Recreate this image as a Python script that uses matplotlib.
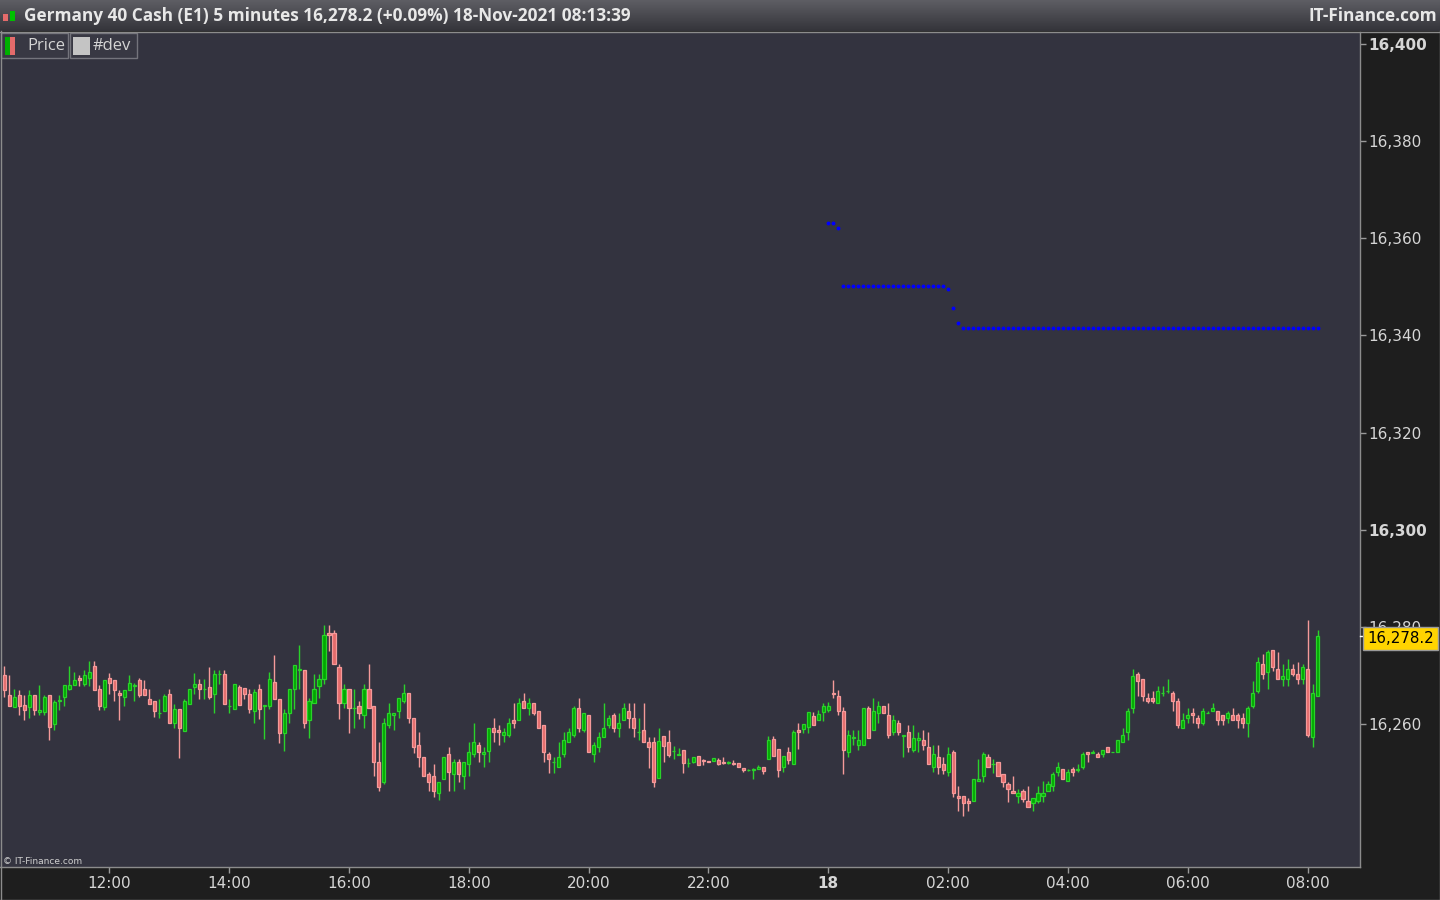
import numpy as np
import pandas as pd
import matplotlib.pyplot as plt
from matplotlib.patches import Rectangle
from matplotlib.lines import Line2D
from matplotlib.colors import LinearSegmentedColormap
from matplotlib.transforms import blended_transform_factory

# Germany 40 Cash, 5 minute candles, 17-Nov 10:15 .. 18-Nov 08:10
start_time = "2021-11-17 10:15"

opens = [
    16270.1, 16265.9, 16263.4, 16265.9, 16263.9, 16263.4, 16265.9, 16262.4, 16262.4, 16265.9,
    16259.9, 16264.8, 16265.5, 16267.3, 16268.0, 16269.4, 16268.3, 16269.4, 16271.9, 16267.3,
    16263.4, 16269.4, 16269.0, 16266.3, 16265.5, 16266.9, 16267.9, 16269.0, 16267.3, 16265.1,
    16264.7, 16262.2, 16262.6, 16266.2, 16260.1, 16263.0, 16258.5, 16264.1, 16267.6, 16268.2,
    16267.1, 16267.6, 16266.1, 16270.2, 16270.2, 16263.6, 16263.0, 16267.6, 16267.5, 16266.2,
    16262.6, 16267.1, 16263.7, 16263.6, 16268.6, 16265.1, 16258.1, 16262.2, 16267.1, 16271.2,
    16271.2, 16260.8, 16264.3, 16267.8, 16269.2, 16278.7, 16278.7, 16271.7, 16264.3, 16267.1,
    16263.2, 16263.6, 16261.8, 16267.1, 16263.6, 16252.1, 16248.1, 16259.7, 16261.8, 16262.6,
    16264.7, 16266.3, 16261.2, 16255.6, 16253.1, 16249.6, 16249.2, 16245.7, 16248.6, 16253.8,
    16249.6, 16252.1, 16249.2, 16251.7, 16253.8, 16255.6, 16253.8, 16254.5, 16259.1, 16258.7,
    16257.7, 16257.7, 16260.8, 16260.8, 16264.7, 16263.2, 16264.3, 16262.6, 16259.7, 16253.8,
    16252.1, 16251.1, 16253.8, 16256.2, 16257.7, 16263.2, 16258.7, 16261.8, 16253.8, 16255.2,
    16257.3, 16259.7, 16261.8, 16259.1, 16260.8, 16262.6, 16261.2, 16258.3, 16258.7, 16256.2,
    16256.2, 16248.8, 16257.5, 16256.2, 16254.4, 16253.6, 16254.6, 16251.9, 16252.1, 16253.4,
    16252.5, 16252.3, 16252.3, 16252.5, 16252.1, 16252.0, 16251.9, 16251.9, 16250.9, 16250.5,
    16250.6, 16250.7, 16251.1, 16252.7, 16257.0, 16254.8, 16251.1, 16254.2, 16251.7, 16258.7,
    16258.9, 16259.3, 16261.6, 16260.8, 16262.4, 16262.8, 16266.3, 16265.7, 16262.6, 16254.2,
    16257.2, 16255.6, 16255.6, 16263.2, 16258.7, 16262.2, 16263.6, 16261.8, 16258.3, 16260.1,
    16257.6, 16258.3, 16254.6, 16256.6, 16256.6, 16255.2, 16251.1, 16253.1, 16251.7, 16250.1,
    16254.2, 16245.1, 16245.1, 16244.1, 16244.1, 16248.2, 16249.2, 16253.1, 16251.7, 16252.1,
    16249.6, 16247.6, 16246.1, 16245.1, 16246.1, 16244.1, 16243.7, 16244.1, 16245.1, 16246.1,
    16247.2, 16250.1, 16250.7, 16248.2, 16250.7, 16250.6, 16251.1, 16254.2, 16254.1, 16253.8,
    16253.8, 16255.2, 16254.2, 16254.2, 16256.2, 16258.3, 16263.2, 16270.2, 16269.2, 16265.3,
    16265.3, 16264.3, 16266.3, 16266.7, 16266.3, 16264.7, 16259.1, 16261.2, 16262.2, 16261.2,
    16260.1, 16262.2, 16262.6, 16262.6, 16261.8, 16261.2, 16261.8, 16261.8, 16261.2, 16260.1,
    16263.6, 16266.7, 16272.3, 16270.6, 16275.2, 16271.3, 16269.2, 16269.2, 16271.3, 16270.2,
    16269.2, 16271.3, 16257.3, 16265.7,
]
highs = [
    16271.9, 16270.1, 16267.3, 16267.0, 16266.0, 16267.0, 16265.9, 16268.0, 16266.0, 16265.9,
    16265.0, 16266.0, 16268.0, 16271.9, 16270.8, 16270.1, 16271.1, 16273.0, 16273.0, 16268.0,
    16269.0, 16270.4, 16269.0, 16266.9, 16267.0, 16270.1, 16268.5, 16269.4, 16269.0, 16267.2,
    16264.7, 16265.1, 16266.2, 16267.2, 16264.1, 16263.0, 16265.1, 16267.2, 16270.4, 16269.2,
    16269.2, 16271.7, 16271.1, 16271.1, 16271.1, 16265.1, 16268.2, 16268.0, 16267.5, 16267.1,
    16267.1, 16268.2, 16264.0, 16270.8, 16274.2, 16265.1, 16263.0, 16267.1, 16272.1, 16276.3,
    16271.2, 16265.3, 16270.3, 16270.3, 16280.4, 16280.4, 16279.3, 16272.3, 16268.2, 16267.1,
    16267.1, 16264.7, 16268.2, 16272.3, 16263.6, 16256.2, 16261.2, 16264.3, 16262.2, 16265.3,
    16268.2, 16266.3, 16261.2, 16258.3, 16253.1, 16250.2, 16251.7, 16248.1, 16253.1, 16255.3,
    16252.7, 16252.7, 16252.1, 16256.3, 16260.1, 16256.3, 16255.2, 16259.1, 16261.2, 16259.7,
    16259.1, 16261.2, 16264.3, 16265.4, 16266.4, 16265.4, 16264.3, 16262.6, 16259.7, 16254.2,
    16253.1, 16256.2, 16258.3, 16259.1, 16263.6, 16265.4, 16262.2, 16261.8, 16256.2, 16258.3,
    16264.3, 16261.8, 16262.2, 16262.2, 16264.3, 16264.3, 16264.3, 16261.2, 16264.3, 16257.3,
    16257.3, 16259.1, 16257.5, 16258.7, 16255.4, 16255.0, 16254.6, 16252.9, 16253.1, 16253.4,
    16252.7, 16252.3, 16252.9, 16252.9, 16253.1, 16252.4, 16252.6, 16251.9, 16250.9, 16250.7,
    16250.9, 16251.6, 16251.1, 16257.5, 16257.5, 16254.8, 16253.5, 16255.2, 16258.7, 16260.3,
    16259.9, 16262.4, 16262.4, 16262.8, 16264.3, 16264.5, 16269.1, 16266.9, 16263.4, 16258.7,
    16258.7, 16258.7, 16263.2, 16263.6, 16265.3, 16264.7, 16263.6, 16264.3, 16261.8, 16260.8,
    16257.7, 16259.7, 16259.7, 16258.3, 16258.7, 16258.3, 16255.6, 16255.6, 16253.1, 16255.2,
    16254.6, 16247.2, 16245.1, 16244.7, 16248.6, 16252.7, 16254.2, 16253.8, 16252.7, 16252.1,
    16249.6, 16248.1, 16249.2, 16246.6, 16246.6, 16247.2, 16244.7, 16247.2, 16248.2, 16248.2,
    16250.1, 16252.1, 16250.7, 16250.7, 16251.1, 16251.7, 16254.2, 16254.2, 16254.7, 16254.2,
    16254.6, 16255.2, 16254.3, 16256.6, 16259.1, 16263.2, 16271.3, 16270.6, 16269.2, 16266.3,
    16266.7, 16267.8, 16267.8, 16269.2, 16266.7, 16265.3, 16262.2, 16263.2, 16263.2, 16261.8,
    16263.2, 16262.7, 16264.3, 16262.6, 16261.8, 16262.6, 16263.2, 16262.2, 16262.2, 16263.6,
    16268.9, 16273.7, 16274.5, 16275.2, 16275.2, 16274.8, 16272.3, 16273.3, 16272.3, 16272.7,
    16272.3, 16281.4, 16268.2, 16279.3,
]
lows = [
    16265.5, 16263.8, 16263.4, 16261.9, 16260.8, 16261.3, 16261.9, 16261.9, 16261.9, 16256.7,
    16258.8, 16262.8, 16263.8, 16266.9, 16268.0, 16267.9, 16267.9, 16267.9, 16266.9, 16262.8,
    16262.8, 16266.2, 16264.8, 16260.8, 16263.8, 16266.9, 16264.8, 16265.5, 16265.9, 16264.1,
    16261.5, 16261.2, 16262.6, 16260.1, 16259.1, 16252.9, 16258.5, 16264.1, 16266.2, 16265.1,
    16265.1, 16265.1, 16262.2, 16268.2, 16264.1, 16262.2, 16263.0, 16264.0, 16265.1, 16262.2,
    16260.1, 16261.1, 16257.0, 16263.0, 16265.1, 16256.0, 16254.5, 16260.1, 16263.0, 16267.1,
    16259.1, 16257.2, 16264.3, 16265.3, 16268.2, 16275.0, 16272.3, 16261.1, 16263.2, 16258.2,
    16259.1, 16261.1, 16259.1, 16263.2, 16249.2, 16246.1, 16247.6, 16259.1, 16258.8, 16261.2,
    16264.3, 16260.1, 16254.1, 16251.1, 16249.2, 16246.1, 16245.0, 16244.4, 16248.6, 16246.1,
    16246.1, 16248.1, 16246.6, 16249.2, 16253.1, 16252.1, 16251.1, 16252.1, 16256.2, 16255.6,
    16256.2, 16257.3, 16259.1, 16260.8, 16263.2, 16261.8, 16261.8, 16259.1, 16252.1, 16250.0,
    16250.0, 16251.1, 16253.1, 16256.2, 16257.3, 16258.3, 16258.3, 16254.2, 16252.1, 16254.2,
    16257.3, 16259.1, 16258.3, 16257.3, 16260.8, 16259.1, 16257.3, 16256.6, 16256.2, 16251.0,
    16247.1, 16248.8, 16252.1, 16253.1, 16252.7, 16253.6, 16250.0, 16251.1, 16251.9, 16251.5,
    16251.5, 16252.1, 16252.3, 16251.5, 16251.7, 16251.8, 16251.5, 16251.1, 16250.2, 16250.4,
    16248.6, 16250.7, 16249.8, 16252.7, 16253.5, 16249.0, 16250.1, 16251.7, 16251.7, 16254.9,
    16258.1, 16258.1, 16259.7, 16260.8, 16260.6, 16262.4, 16265.3, 16261.8, 16249.6, 16253.1,
    16255.6, 16254.6, 16255.6, 16257.2, 16258.7, 16260.1, 16262.2, 16257.2, 16257.7, 16257.7,
    16253.1, 16254.2, 16254.2, 16254.2, 16254.6, 16251.7, 16250.1, 16249.6, 16249.6, 16249.2,
    16245.0, 16242.0, 16241.1, 16242.0, 16244.1, 16248.2, 16248.1, 16251.1, 16249.9, 16249.2,
    16247.1, 16244.0, 16245.7, 16243.7, 16244.0, 16243.0, 16242.0, 16243.7, 16244.0, 16246.1,
    16246.1, 16249.2, 16248.6, 16248.2, 16249.2, 16250.1, 16250.7, 16252.1, 16254.0, 16253.1,
    16253.1, 16254.2, 16254.2, 16254.2, 16256.2, 16256.6, 16262.2, 16265.7, 16264.7, 16264.3,
    16264.3, 16264.3, 16265.7, 16266.3, 16262.6, 16259.1, 16259.1, 16260.1, 16260.1, 16259.1,
    16259.7, 16262.2, 16262.6, 16259.7, 16259.7, 16260.1, 16260.8, 16259.1, 16259.1, 16257.3,
    16263.2, 16266.3, 16269.2, 16267.1, 16271.0, 16269.2, 16267.8, 16267.8, 16269.8, 16268.2,
    16268.2, 16257.3, 16255.2, 16265.7,
]
closes = [
    16266.9, 16263.8, 16265.5, 16263.8, 16262.8, 16265.9, 16262.8, 16262.8, 16265.5, 16259.3,
    16264.5, 16264.9, 16268.0, 16268.0, 16269.0, 16269.0, 16270.1, 16270.8, 16266.9, 16263.8,
    16269.0, 16268.4, 16266.9, 16265.9, 16267.0, 16268.4, 16268.0, 16265.9, 16265.9, 16264.1,
    16262.6, 16262.3, 16265.8, 16260.1, 16263.0, 16259.1, 16264.7, 16267.2, 16268.2, 16267.1,
    16267.2, 16265.6, 16270.2, 16270.3, 16264.1, 16263.7, 16268.2, 16264.0, 16266.2, 16263.0,
    16266.5, 16263.0, 16264.0, 16269.2, 16265.1, 16258.1, 16262.2, 16267.1, 16272.1, 16271.3,
    16260.1, 16264.7, 16267.1, 16269.2, 16278.3, 16278.3, 16272.3, 16264.3, 16267.1, 16263.2,
    16263.3, 16262.2, 16267.1, 16263.2, 16252.1, 16247.1, 16260.1, 16262.2, 16262.2, 16265.3,
    16266.3, 16261.2, 16255.2, 16253.1, 16249.2, 16248.1, 16246.1, 16248.1, 16253.1, 16250.1,
    16252.1, 16249.6, 16252.1, 16254.2, 16256.2, 16254.2, 16254.2, 16259.1, 16258.3, 16258.3,
    16258.3, 16260.1, 16260.1, 16264.3, 16263.2, 16264.3, 16262.2, 16259.1, 16254.2, 16252.7,
    16252.2, 16253.1, 16256.6, 16258.3, 16263.2, 16259.1, 16262.2, 16254.2, 16255.6, 16257.3,
    16259.1, 16261.2, 16259.1, 16260.1, 16263.2, 16261.2, 16259.1, 16258.4, 16256.2, 16255.2,
    16248.0, 16256.4, 16255.4, 16253.6, 16254.5, 16253.8, 16251.9, 16252.0, 16253.1, 16251.5,
    16252.3, 16252.1, 16252.9, 16251.7, 16251.9, 16252.1, 16251.7, 16251.1, 16250.5, 16250.6,
    16250.7, 16251.1, 16250.3, 16256.8, 16253.5, 16250.6, 16253.5, 16252.5, 16258.3, 16258.3,
    16259.9, 16262.4, 16259.7, 16262.0, 16263.6, 16263.6, 16266.1, 16262.6, 16254.6, 16257.7,
    16257.3, 16256.6, 16263.2, 16257.2, 16262.6, 16263.6, 16262.2, 16257.7, 16260.8, 16258.3,
    16257.7, 16255.2, 16257.2, 16257.2, 16255.6, 16251.7, 16253.8, 16251.1, 16250.6, 16253.8,
    16245.7, 16244.7, 16243.7, 16243.7, 16248.6, 16248.6, 16253.8, 16251.1, 16251.8, 16249.2,
    16248.1, 16246.6, 16245.7, 16245.7, 16244.6, 16243.0, 16244.7, 16245.7, 16245.7, 16247.6,
    16249.6, 16251.1, 16248.6, 16250.1, 16250.1, 16250.7, 16253.8, 16253.8, 16254.2, 16253.1,
    16254.6, 16254.2, 16254.3, 16256.6, 16257.7, 16262.6, 16269.8, 16268.8, 16265.7, 16264.7,
    16264.7, 16266.7, 16266.4, 16266.8, 16264.7, 16259.7, 16260.8, 16261.8, 16261.8, 16260.1,
    16262.6, 16262.3, 16263.2, 16260.8, 16260.8, 16262.2, 16260.8, 16260.8, 16260.1, 16263.2,
    16266.3, 16272.7, 16270.2, 16274.8, 16271.7, 16269.2, 16269.8, 16271.3, 16270.2, 16269.2,
    16271.7, 16257.7, 16266.3, 16278.2,
]

# "#dev" indicator (blue dots), starts at candle 165 (18-Nov 00:00)
dev_start = 165
dev_values = [
    16363.2, 16363.2, 16362.2,
    16350.2, 16350.2, 16350.2, 16350.2, 16350.2, 16350.2, 16350.2, 16350.2, 16350.2, 16350.2, 16350.2,
    16350.2, 16350.2, 16350.2, 16350.2, 16350.2, 16350.2, 16350.2, 16350.2, 16350.2, 16350.2,
    16349.6, 16345.7, 16342.6,
    16341.6, 16341.6, 16341.6, 16341.6, 16341.6, 16341.6, 16341.6, 16341.6, 16341.6, 16341.6, 16341.6, 16341.6,
    16341.6, 16341.6, 16341.6, 16341.6, 16341.6, 16341.6, 16341.6, 16341.6, 16341.6, 16341.6, 16341.6, 16341.6,
    16341.6, 16341.6, 16341.6, 16341.6, 16341.6, 16341.6, 16341.6, 16341.6, 16341.6, 16341.6, 16341.6, 16341.6,
    16341.6, 16341.6, 16341.6, 16341.6, 16341.6, 16341.6, 16341.6, 16341.6, 16341.6, 16341.6, 16341.6, 16341.6,
    16341.6, 16341.6, 16341.6, 16341.6, 16341.6, 16341.6, 16341.6, 16341.6, 16341.6, 16341.6, 16341.6, 16341.6,
    16341.6, 16341.6, 16341.6, 16341.6, 16341.6, 16341.6, 16341.6, 16341.6, 16341.6, 16341.6, 16341.6, 16341.6,
]

last_price = 16278.2
y_ticks = [16260, 16280, 16300, 16320, 16340, 16360, 16380, 16400]
bold_y = [16300, 16400]
title_text = "Germany 40 Cash (E1) 5 minutes 16,278.2 (+0.09%) 18-Nov-2021 08:13:39"

W, H = 1440, 900
fig = plt.figure(figsize=(W / 100, H / 100), dpi=100, facecolor='#1e1e1e')


def fx(px):
    return px / W


def fy(py):
    return 1 - py / H


def px_rect(x0, y0, x1, y1, **kw):
    fig.add_artist(Rectangle((fx(x0), fy(y1)), (x1 - x0) / W, (y1 - y0) / H,
                             transform=fig.transFigure, **kw))


# main price panel
ax = fig.add_axes([0, fy(867), fx(1360), (867 - 32) / H])
ax.set_facecolor('#33333f')

o = np.array(opens)
h = np.array(highs)
l = np.array(lows)
c = np.array(closes)
idx = np.arange(len(c))
up = c >= o

green_fill, green_edge = '#00a800', '#2ad22a'
red_fill, red_edge = '#e36b6b', '#f59a9a'
edge = np.where(up, green_edge, red_edge)
fill = np.where(up, green_fill, red_fill)

ax.vlines(idx, l, h, colors=edge, lw=1.0, zorder=2)
body_low = np.minimum(o, c)
body_h = np.maximum(np.abs(c - o), 0.12)
ax.bar(idx, body_h, bottom=body_low, width=0.62, color=fill, edgecolor=edge,
       linewidth=0.9, zorder=3)

dev_x = np.arange(dev_start, dev_start + len(dev_values))
ax.plot(dev_x, dev_values, 'o', ms=2.8, color='#0000ff', mec='none', zorder=4)

ax.set_xlim(-0.9, 271.5)
ax.set_ylim(16230.55, 16402.47)

# time axis
times = pd.date_range(start_time, periods=len(c), freq='5min')
tick_pos = [i for i, t in enumerate(times) if t.minute == 0 and t.hour % 2 == 0]
tick_lab = ['18' if times[i].hour == 0 else times[i].strftime('%H:%M') for i in tick_pos]
ax.set_xticks(tick_pos)
ax.set_xticklabels(tick_lab)
for lab in ax.get_xticklabels():
    if lab.get_text() == '18':
        lab.set_fontweight('bold')
        lab.set_color('#f2f2f2')

ax.yaxis.tick_right()
ax.set_yticks(y_ticks)
ax.set_yticklabels([f'{v:,}' for v in y_ticks])
for lab, v in zip(ax.get_yticklabels(), y_ticks):
    if v in bold_y:
        lab.set_fontweight('bold')
        lab.set_color('#f2f2f2')

ax.tick_params(axis='both', colors='#9a9a9a', length=4, width=1, labelsize=11,
               labelcolor='#d6d6d6')
ax.tick_params(axis='y', pad=2)
ax.tick_params(axis='x', pad=2.5)
for s in ['top', 'left']:
    ax.spines[s].set_visible(False)
for s in ['right', 'bottom']:
    ax.spines[s].set_color('#8c8c8c')
    ax.spines[s].set_linewidth(1)

# last price marker (label box sits a little below the price, as in the platform)
tr = blended_transform_factory(ax.transAxes, ax.transData)
ax.plot([1.0, 1.0 + 4 / 1360], [last_price, last_price], color='white', lw=1,
        transform=tr, clip_on=False, zorder=5)
ax.annotate(f'{last_price:,.1f}', xy=(1.0, last_price), xycoords=tr,
            xytext=(5.3, -2.2), textcoords='offset points', ha='left', va='center',
            fontsize=10.8, color='black', annotation_clip=False, zorder=6,
            bbox=dict(boxstyle='square,pad=0.26', fc='#ffd400', ec='#9a9a9a', lw=1))

# title bar
tb = fig.add_axes([0, fy(31), 1, 31 / H])
grad = np.linspace(0, 1, 64).reshape(-1, 1)
tb.imshow(grad, aspect='auto', extent=[0, 1, 0, 1],
          cmap=LinearSegmentedColormap.from_list('tb', ['#5e5e64', '#34343a']))
tb.axis('off')
fig.add_artist(Line2D([0, 1], [fy(31.5), fy(31.5)], color='#8c8c8c', lw=1,
                      transform=fig.transFigure))

# small chart icon in the title
px_rect(3, 14, 8, 21, fc='#e36b6b', ec='none')
px_rect(10, 11, 15, 21, fc='#00c000', ec='none')
fig.text(fx(24), fy(16), title_text, color='#e8e8e8', fontsize=12.45, fontweight='bold',
         family='Open Sans', ha='left', va='center')
fig.text(fx(1437), fy(16), 'IT-Finance.com', color='#e8e8e8', fontsize=12.45,
         fontweight='bold', family='Open Sans', ha='right', va='center')

# legend boxes
px_rect(1, 33, 68, 58, fc='#383843', ec='#74747c', lw=1)
px_rect(70, 33, 137, 58, fc='#383843', ec='#74747c', lw=1)
px_rect(5, 37, 10, 55, fc='#00b000', ec='none')
px_rect(10, 37, 15, 55, fc='#e36b6b', ec='none')
px_rect(73, 37, 90, 55, fc='#c4c4c4', ec='none')
fig.text(fx(27), fy(45.5), 'Price', color='#d4d4d4', fontsize=12, family='Open Sans',
         ha='left', va='center')
fig.text(fx(93), fy(45.5), '#dev', color='#d4d4d4', fontsize=12, family='Open Sans',
         ha='left', va='center')

fig.text(fx(3), fy(861), '\u00a9 IT-Finance.com', color='#cfcfcf', fontsize=6.5,
         ha='left', va='center')

# outer frame lines
fig.add_artist(Line2D([fx(0.5), fx(0.5)], [fy(31), fy(899)], color='#8c8c8c', lw=1,
                      transform=fig.transFigure))
fig.add_artist(Line2D([fx(1439.5), fx(1439.5)], [fy(31), fy(899)], color='#8c8c8c', lw=1,
                      transform=fig.transFigure))
fig.add_artist(Line2D([0, 1], [fy(899.5), fy(899.5)], color='#8c8c8c', lw=1,
                      transform=fig.transFigure))

fig.savefig('out.png', dpi=100, facecolor=fig.get_facecolor())
